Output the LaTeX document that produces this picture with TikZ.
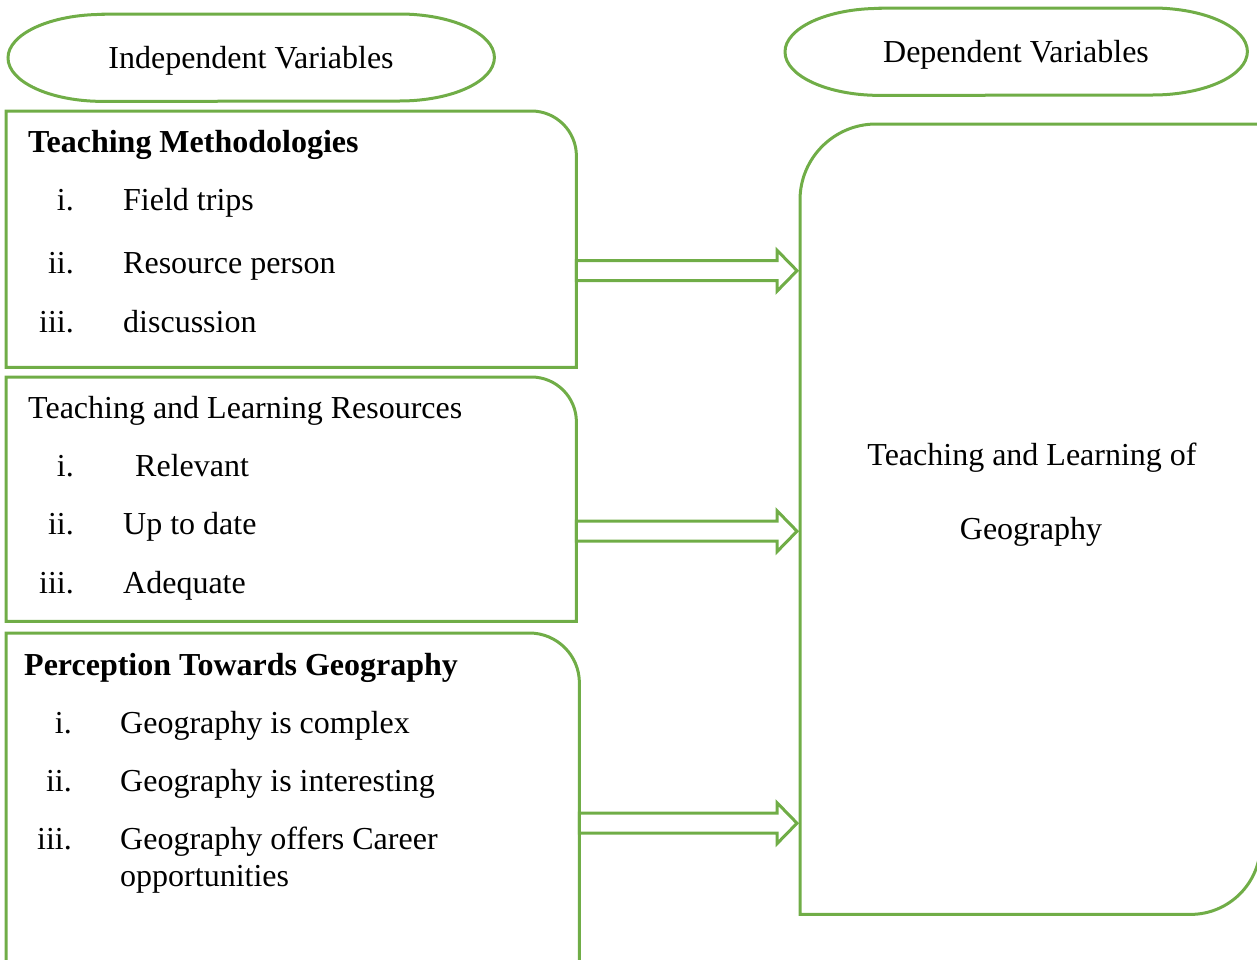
\documentclass[tikz,border=0pt]{standalone}
\usepackage{fontspec}
\setmainfont{Liberation Serif}
\usetikzlibrary{calc}

\definecolor{leafgreen}{RGB}{112,173,71}

% hollow block arrow from a box side to the x of a target anchor
\newcommand{\fatarrow}[2]{%
  \draw[outline] let \p1=(#1), \p2=(#2) in
    (\x1,\y1+10pt) -- (\x2-23pt,\y1+10pt) -- (\x2-23pt,\y1+20.5pt) -- (\x2-3pt,\y1)
    -- (\x2-23pt,\y1-20.5pt) -- (\x2-23pt,\y1-10pt) -- (\x1,\y1-10pt) -- cycle;}

\begin{document}
\begin{tikzpicture}
[x=1pt, y=1pt,
  every node/.style={font=\fontsize{32}{38}\selectfont, inner sep=0pt},
  outline/.style={draw=leafgreen, line width=3pt},
  frame/.style={anchor=north west, draw=none},
  head/.style={anchor=base west, font=\fontsize{32}{38}\selectfont\bfseries},
  numeral/.style={anchor=base east}, entry/.style={anchor=base west}]
  \useasboundingbox (0,0) rectangle (1257,-959);
  \clip (0,0) rectangle (1257,-959);

  % headings
  \node[frame, minimum width=486pt, minimum height=87pt] (indep) at (8,-14) {};
  \draw[outline] ([xshift=95pt]indep.north west) -- ([xshift=-95pt]indep.north east)
    arc[start angle=90, end angle=-90, x radius=95pt, y radius=43.5pt]
    -- ([xshift=95pt]indep.south west)
    arc[start angle=270, end angle=90, x radius=95pt, y radius=43.5pt] -- cycle;
  \node[anchor=base] (indeptext) at (251,-68) {Independent Variables};

  \node[frame, minimum width=462pt, minimum height=87pt] (dep) at (785,-8) {};
  \draw[outline] ([xshift=95pt]dep.north west) -- ([xshift=-95pt]dep.north east)
    arc[start angle=90, end angle=-90, x radius=95pt, y radius=43.5pt]
    -- ([xshift=95pt]dep.south west)
    arc[start angle=270, end angle=90, x radius=95pt, y radius=43.5pt] -- cycle;
  \node[anchor=base] (deptext) at (1016,-62) {Dependent Variables};

  % independent variable boxes
  \node[frame, minimum width=570pt, minimum height=256pt] (methods) at (6,-111) {};
  \draw[outline] (methods.south west) -- (methods.north west)
    -- ([xshift=-45pt]methods.north east) arc[start angle=90, end angle=0, radius=45pt]
    -- (methods.south east) -- cycle;
  \node[head] (methodshead) at (28,-152) {Teaching Methodologies};
  \node[numeral] (m1n) at (74,-210) {i.};
  \node[entry] (m1) at (123,-210) {Field trips};
  \node[numeral] (m2n) at (74,-273) {ii.};
  \node[entry] (m2) at (123,-273) {Resource person};
  \node[numeral] (m3n) at (74,-332) {iii.};
  \node[entry] (m3) at (123,-332) {discussion};

  \node[frame, minimum width=570pt, minimum height=244pt] (resources) at (6,-377) {};
  \draw[outline] (resources.south west) -- (resources.north west)
    -- ([xshift=-45pt]resources.north east) arc[start angle=90, end angle=0, radius=45pt]
    -- (resources.south east) -- cycle;
  \node[entry] (resourceshead) at (28,-418) {Teaching and Learning Resources};
  \node[numeral] (r1n) at (74,-476) {i.};
  \node[entry] (r1) at (135,-476) {Relevant};
  \node[numeral] (r2n) at (74,-534) {ii.};
  \node[entry] (r2) at (123,-534) {Up to date};
  \node[numeral] (r3n) at (74,-593) {iii.};
  \node[entry] (r3) at (123,-593) {Adequate};

  \node[frame, minimum width=573pt, minimum height=342pt] (perception) at (6,-633) {};
  \draw[outline] (perception.south west) -- (perception.north west)
    -- ([xshift=-50pt]perception.north east) arc[start angle=90, end angle=0, radius=50pt]
    -- (perception.south east) -- cycle;
  \node[head] (perceptionhead) at (24,-675) {Perception Towards Geography};
  \node[numeral] (p1n) at (72,-733) {i.};
  \node[entry] (p1) at (120,-733) {Geography is complex};
  \node[numeral] (p2n) at (72,-791) {ii.};
  \node[entry] (p2) at (120,-791) {Geography is interesting};
  \node[numeral] (p3n) at (72,-849) {iii.};
  \node[entry] (p3) at (120,-849) {Geography offers Career};
  \node[entry] (p3b) at (120,-886) {opportunities};

  % dependent variable box
  \node[frame, minimum width=460pt, minimum height=790pt] (outcome) at (800,-124) {};
  \draw[outline] ([yshift=-76pt]outcome.north west) arc[start angle=180, end angle=90, radius=76pt]
    -- (outcome.north east) -- ([yshift=70pt]outcome.south east)
    arc[start angle=0, end angle=-90, radius=70pt] -- (outcome.south west) -- cycle;
  \node[anchor=base] (outcome1) at (1032,-465) {Teaching and Learning of};
  \node[anchor=base] (outcome2) at (1031,-539) {Geography};

  % arrows
  \fatarrow{[yshift=-31.5pt]methods.east}{outcome.west}
  \fatarrow{[yshift=-32pt]resources.east}{outcome.west}
  \fatarrow{[yshift=-19pt]perception.east}{outcome.west}
\end{tikzpicture}
\end{document}
